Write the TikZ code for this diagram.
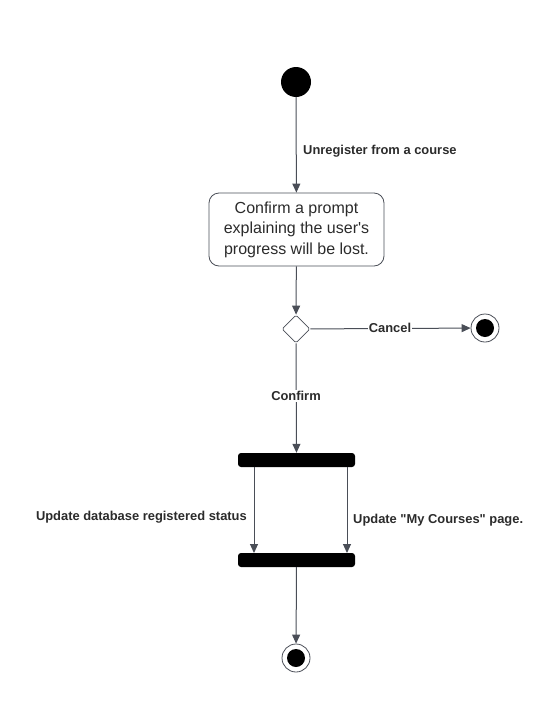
\documentclass[tikz,border=0pt]{standalone}
\usepackage{fontspec}
\setmainfont{Liberation Sans}
\newfontfamily\plainsans{Liberation Sans}
\usetikzlibrary{arrows.meta,shapes.geometric}
\definecolor{linec}{HTML}{4A4E57}
\definecolor{textc}{HTML}{2B2B2B}
\tikzset{
  flow/.style={draw=linec, line width=1pt, -{Triangle[length=9pt,width=8pt]}},
  lbl/.style={font=\plainsans\fontsize{12.9}{15}\selectfont\bfseries, text=textc, inner sep=1pt},
  startnode/.style={circle, fill=black, minimum size=30pt, inner sep=0pt},
  endouter/.style={circle, draw=linec, line width=0.8pt, fill=white, minimum size=28pt, inner sep=0pt},
  endinner/.style={circle, fill=black, minimum size=18pt, inner sep=0pt},
  actbox/.style={draw=linec, line width=0.8pt, rounded corners=10pt, minimum width=175pt, minimum height=73pt, align=center, font=\plainsans\fontsize{16}{20.5}\selectfont, text=textc},
  decision/.style={diamond, draw=linec, line width=0.8pt, minimum width=28pt, minimum height=28pt, inner sep=0pt, aspect=1, rounded corners=1.5pt},
  bar/.style={fill=black, rounded corners=3pt, minimum width=117pt, minimum height=14pt, inner sep=0pt}
}
\begin{document}
\begin{tikzpicture}[x=1pt,y=-1pt]
\useasboundingbox (0,0) rectangle (555,723);
\node[startnode] (start) at (296,82) {};
\node[actbox] (act) at (296.5,229.5) {Confirm a prompt\\explaining the user's\\progress will be lost.};
\node[decision] (dec) at (296,329) {};
\node[endouter] (end1) at (485,328) {};
\node[endinner] (end1in) at (end1) {};
\node[bar] (fork) at (296.5,460) {};
\node[bar] (join) at (296.5,560) {};
\node[endouter] (end2) at (296,658) {};
\node[endinner] (end2in) at (end2) {};

\coordinate (fl) at (254,467);
\coordinate (fr) at (347,467);
\coordinate (jl) at (254,553);
\coordinate (jr) at (347,553);

\draw[flow] (start) -- (act);
\node[lbl, anchor=west] (l1) at (302,151) {Unregister from a course};
\draw[flow] (act) -- (dec);
\draw[flow] (dec) -- (end1);
\node[lbl, fill=white] (l2) at (390,327.5) {Cancel};
\draw[flow] (dec) -- (fork);
\node[lbl, fill=white] (l3) at (296,396) {Confirm};
\draw[flow] (fl) -- (jl);
\draw[flow] (fr) -- (jr);
\node[lbl, anchor=east] (l4) at (248,517) {Update database registered status};
\node[lbl, anchor=west] (l5) at (352,520.5) {Update "My Courses" page.};
\draw[flow] (join) -- (end2);
\end{tikzpicture}
\end{document}
